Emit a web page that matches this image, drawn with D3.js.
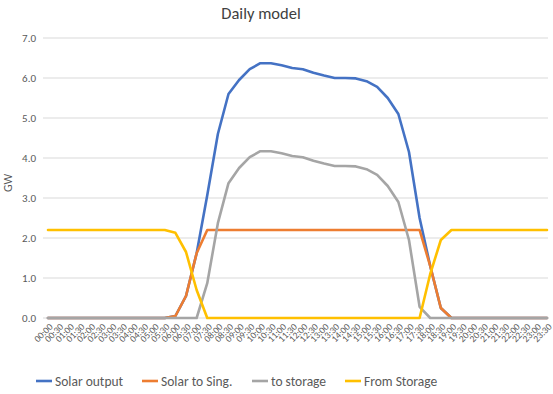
<!DOCTYPE html>
<html><head><meta charset="utf-8">
<script src="https://cdn.jsdelivr.net/npm/d3@7"></script>
<style>
body{margin:0;background:#fff;}
svg{display:block;font-family:Calibri,Carlito,"Open Sans","Noto Sans",sans-serif;}
</style></head>
<body><svg id="c" width="553" height="394"></svg>
<script>
const categories = [];
for (let h = 0; h < 24; h++) { for (const m of ["00","30"]) categories.push(String(h).padStart(2,"0")+":"+m); }

const solarOutput = [0,0,0,0,0,0,0,0,0,0,0,0,0.05,0.55,1.62,3.07,4.6,5.6,5.95,6.22,6.37,6.37,6.32,6.25,6.22,6.13,6.06,6.0,6.0,5.99,5.92,5.78,5.5,5.1,4.15,2.5,1.3,0.25,0,0,0,0,0,0,0,0,0,0];
const solarToSing = [0,0,0,0,0,0,0,0,0,0,0,0,0.05,0.55,1.62,2.2,2.2,2.2,2.2,2.2,2.2,2.2,2.2,2.2,2.2,2.2,2.2,2.2,2.2,2.2,2.2,2.2,2.2,2.2,2.2,2.2,1.3,0.25,0,0,0,0,0,0,0,0,0,0];
const toStorage = [0,0,0,0,0,0,0,0,0,0,0,0,0,0,0,0.87,2.37,3.37,3.75,4.02,4.17,4.17,4.12,4.05,4.02,3.93,3.86,3.8,3.8,3.79,3.72,3.58,3.3,2.9,1.95,0.28,0,0,0,0,0,0,0,0,0,0,0,0];
const fromStorage = [2.2,2.2,2.2,2.2,2.2,2.2,2.2,2.2,2.2,2.2,2.2,2.2,2.13,1.65,0.7,0,0,0,0,0,0,0,0,0,0,0,0,0,0,0,0,0,0,0,0,0,1.1,1.95,2.2,2.2,2.2,2.2,2.2,2.2,2.2,2.2,2.2,2.2];
const yTicks = [0,1,2,3,4,5,6,7];
const seriesNames = ["Solar output","Solar to Sing.","to storage","From Storage"];
const seriesColors = ["#4472C4","#ED7D31","#A5A5A5","#FFC000"];
const seriesData = [solarOutput, solarToSing, toStorage, fromStorage];

const svg = d3.select("#c");
const x = d3.scalePoint().domain(categories).range([48, 547]);
const y = d3.scaleLinear().domain([0, 7]).range([318, 38]);

svg.append("text").attr("x", 261).attr("y", 19).attr("text-anchor","middle")
  .attr("font-size", 16.5).attr("fill", "#404040").text("Daily model");

// grid
svg.append("g").selectAll("line").data(yTicks).join("line")
  .attr("x1", 43).attr("x2", 548).attr("y1", d => y(d)).attr("y2", d => y(d))
  .attr("stroke", "#d9d9d9").attr("stroke-width", 1);

// y labels
svg.append("g").selectAll("text").data(yTicks).join("text")
  .attr("x", 36).attr("y", d => y(d)).attr("dy","0.35em").attr("text-anchor","end")
  .attr("font-size", 11).attr("fill", "#595959").text(d => d.toFixed(1));

svg.append("text").attr("transform","translate(12,183) rotate(-90)").attr("text-anchor","middle")
  .attr("font-size", 12).attr("fill","#595959").text("GW");

// x labels
svg.append("g").selectAll("text").data(categories).join("text")
  .attr("transform", d => `translate(${x(d)+3},${325}) rotate(-45)`)
  .attr("text-anchor","end").attr("dy","0.35em")
  .attr("font-size", 9.5).attr("fill","#595959").text(d => d);

const line = d3.line().x((d,i) => x(categories[i])).y(d => y(d));
seriesData.forEach((s, k) => {
  svg.append("path").datum(s).attr("d", line)
    .attr("fill","none").attr("stroke", seriesColors[k]).attr("stroke-width", 2.6)
    .attr("stroke-linejoin","round").attr("stroke-linecap","round");
});

// legend
const legX = [36, 142, 252, 345];
const lg = svg.append("g");
seriesNames.forEach((n, k) => {
  lg.append("line").attr("x1", legX[k]).attr("x2", legX[k]+16).attr("y1", 381).attr("y2", 381)
    .attr("stroke", seriesColors[k]).attr("stroke-width", 2.6);
  lg.append("text").attr("x", legX[k]+19).attr("y", 381).attr("dy","0.35em")
    .attr("font-size", 13.5).attr("fill","#595959").text(n);
});
</script></body></html>
